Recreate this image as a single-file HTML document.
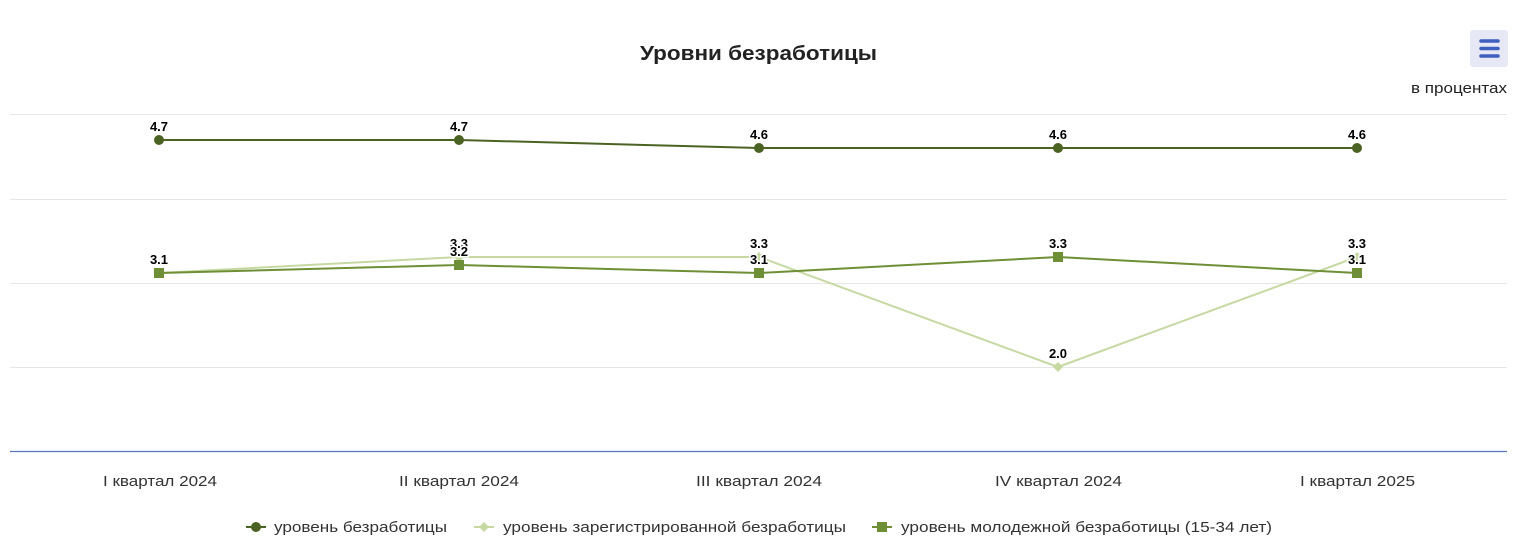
<!DOCTYPE html>
<html><head><meta charset="utf-8"><style>
html,body{margin:0;padding:0;background:#fff;}
svg{display:block;font-family:"Liberation Sans",Arial,sans-serif;}
</style></head><body>
<svg width="1515" height="556" viewBox="0 0 1515 556" xmlns="http://www.w3.org/2000/svg">
<rect width="1515" height="556" fill="#fff"/>
<text x="640" y="60" font-size="20" font-weight="bold" fill="#222" textLength="237" lengthAdjust="spacingAndGlyphs">Уровни безработицы</text>
<rect x="1470" y="30" width="38" height="37" rx="3" fill="#e6e9f5"/>
<g stroke="#3f5fbf" stroke-width="3.5" stroke-linecap="round">
<line x1="1481" y1="41" x2="1498" y2="41"/><line x1="1481" y1="48.5" x2="1498" y2="48.5"/><line x1="1481" y1="56" x2="1498" y2="56"/>
</g>
<text x="1411" y="93" font-size="15" fill="#222" textLength="96" lengthAdjust="spacingAndGlyphs">в процентах</text>
<g stroke="#e6e6e6" stroke-width="1">
<line x1="10" y1="114.5" x2="1507" y2="114.5"/>
<line x1="10" y1="199.5" x2="1507" y2="199.5"/>
<line x1="10" y1="283.5" x2="1507" y2="283.5"/>
<line x1="10" y1="367.5" x2="1507" y2="367.5"/>
</g>
<line x1="10" y1="451.5" x2="1507" y2="451.5" stroke="#5b78c0" stroke-width="1.2"/>
<g font-size="15" fill="#333" lengthAdjust="spacingAndGlyphs">
<text x="103" y="486" textLength="114" lengthAdjust="spacingAndGlyphs">I квартал 2024</text>
<text x="399" y="486" textLength="120" lengthAdjust="spacingAndGlyphs">II квартал 2024</text>
<text x="696" y="486" textLength="126" lengthAdjust="spacingAndGlyphs">III квартал 2024</text>
<text x="995" y="486" textLength="127" lengthAdjust="spacingAndGlyphs">IV квартал 2024</text>
<text x="1300" y="486" textLength="115" lengthAdjust="spacingAndGlyphs">I квартал 2025</text>
</g>
<polyline points="159,273 459,257 759,257 1058,367 1357,257" fill="none" stroke="#c6d9a3" stroke-width="2"/>
<g fill="#c6d9a3">
<path d="M159,268 l5,5 -5,5 -5,-5z"/><path d="M459,252 l5,5 -5,5 -5,-5z"/><path d="M759,252 l5,5 -5,5 -5,-5z"/><path d="M1058,362 l5,5 -5,5 -5,-5z"/><path d="M1357,252 l5,5 -5,5 -5,-5z"/>
</g>
<polyline points="159,273 459,265 759,273 1058,257 1357,273" fill="none" stroke="#6e8f35" stroke-width="2"/>
<g fill="#6e8f35">
<rect x="154" y="268" width="10" height="10"/><rect x="454" y="260" width="10" height="10"/><rect x="754" y="268" width="10" height="10"/><rect x="1053" y="252" width="10" height="10"/><rect x="1352" y="268" width="10" height="10"/>
</g>
<polyline points="159,140 459,140 759,148 1058,148 1357,148" fill="none" stroke="#4b6322" stroke-width="2"/>
<g fill="#4b6322">
<circle cx="159" cy="140" r="5"/><circle cx="459" cy="140" r="5"/><circle cx="759" cy="148" r="5"/><circle cx="1058" cy="148" r="5"/><circle cx="1357" cy="148" r="5"/>
</g>
<g font-size="13" font-weight="bold" fill="#000" text-anchor="middle" stroke="#fff" stroke-width="3" paint-order="stroke">
<text x="159" y="131">4.7</text><text x="459" y="131">4.7</text><text x="759" y="139">4.6</text><text x="1058" y="139">4.6</text><text x="1357" y="139">4.6</text>
<text x="459" y="248">3.3</text><text x="759" y="248">3.3</text><text x="1058" y="358">2.0</text><text x="1357" y="248">3.3</text>
<text x="159" y="264">3.1</text><text x="459" y="256">3.2</text><text x="759" y="264">3.1</text><text x="1058" y="248">3.3</text><text x="1357" y="264">3.1</text>
</g>
<g font-size="15" fill="#333">
<line x1="246" y1="527" x2="266" y2="527" stroke="#4b6322" stroke-width="2"/><circle cx="256" cy="527" r="5" fill="#4b6322"/>
<text x="274" y="532" textLength="173" lengthAdjust="spacingAndGlyphs">уровень безработицы</text>
<line x1="474" y1="527" x2="494" y2="527" stroke="#c6d9a3" stroke-width="2"/><path d="M484,522 l5,5 -5,5 -5,-5z" fill="#c6d9a3"/>
<text x="503" y="532" textLength="343" lengthAdjust="spacingAndGlyphs">уровень зарегистрированной безработицы</text>
<line x1="872" y1="527" x2="892" y2="527" stroke="#6e8f35" stroke-width="2"/><rect x="877" y="522" width="10" height="10" fill="#6e8f35"/>
<text x="901" y="532" textLength="371" lengthAdjust="spacingAndGlyphs">уровень молодежной безработицы (15-34 лет)</text>
</g>
</svg>
</body></html>
